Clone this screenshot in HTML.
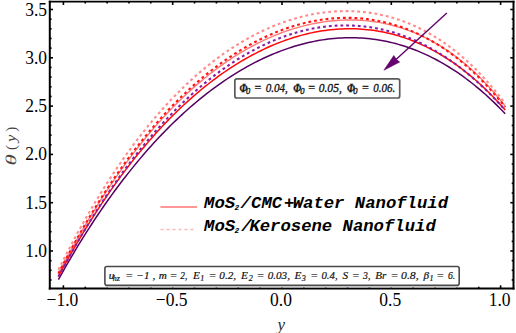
<!DOCTYPE html>
<html><head><meta charset="utf-8"><style>
html,body{margin:0;padding:0;background:#fff;width:516px;height:333px;overflow:hidden}
svg{display:block}
.serif{font-family:"Liberation Serif",serif}
.lg{font-family:"Liberation Mono",monospace;font-weight:bold;font-style:italic}
.b1{font-family:"Liberation Serif",serif;font-style:italic;stroke:#111;stroke-width:0.3px}
.b2{font-family:"Liberation Serif",serif;font-style:italic;stroke:#111;stroke-width:0.2px}
</style></head><body>
<svg width="516" height="333" viewBox="0 0 516 333">
<rect width="516" height="333" fill="#fff"/>
<g fill="none" stroke-linejoin="round">
<polyline points="58.40,273.70 61.21,268.34 64.02,263.05 66.83,257.82 69.64,252.66 72.45,247.58 75.26,242.56 78.07,237.60 80.88,232.72 83.69,227.90 86.50,223.15 89.31,218.46 92.12,213.84 94.93,209.28 97.74,204.79 100.55,200.37 103.36,196.00 106.17,191.71 108.98,187.47 111.79,183.30 114.60,179.19 117.41,175.14 120.22,171.16 123.03,167.23 125.84,163.37 128.65,159.57 131.46,155.83 134.27,152.14 137.08,148.52 139.89,144.96 142.70,141.45 145.51,138.00 148.32,134.61 151.13,131.28 153.94,128.00 156.75,124.78 159.56,121.62 162.37,118.51 165.18,115.46 167.99,112.46 170.80,109.52 173.61,106.62 176.42,103.79 179.23,101.00 182.04,98.27 184.85,95.59 187.66,92.97 190.47,90.39 193.28,87.87 196.09,85.40 198.90,82.97 201.71,80.60 204.52,78.28 207.33,76.00 210.14,73.78 212.95,71.60 215.76,69.48 218.57,67.40 221.38,65.37 224.19,63.38 227.00,61.44 229.81,59.55 232.62,57.71 235.43,55.91 238.24,54.16 241.05,52.46 243.86,50.79 246.67,49.18 249.48,47.61 252.29,46.08 255.10,44.60 257.91,43.16 260.72,41.77 263.53,40.42 266.34,39.12 269.15,37.86 271.96,36.64 274.77,35.46 277.58,34.33 280.39,33.24 283.21,32.20 286.02,31.19 288.83,30.23 291.64,29.31 294.45,28.44 297.26,27.61 300.07,26.82 302.88,26.07 305.69,25.37 308.50,24.70 311.31,24.08 314.12,23.51 316.93,22.97 319.74,22.48 322.55,22.03 325.36,21.63 328.17,21.27 330.98,20.95 333.79,20.68 336.60,20.44 339.41,20.26 342.22,20.12 345.03,20.02 347.84,19.96 350.65,19.95 353.46,19.99 356.27,20.07 359.08,20.20 361.89,20.38 364.70,20.60 367.51,20.86 370.32,21.18 373.13,21.54 375.94,21.95 378.75,22.42 381.56,22.93 384.37,23.48 387.18,24.10 389.99,24.76 392.80,25.47 395.61,26.23 398.42,27.05 401.23,27.92 404.04,28.85 406.85,29.83 409.66,30.87 412.47,31.96 415.28,33.11 418.09,34.32 420.90,35.58 423.71,36.91 426.52,38.30 429.33,39.75 432.14,41.26 434.95,42.83 437.76,44.47 440.57,46.17 443.38,47.95 446.19,49.78 449.00,51.69 451.81,53.67 454.62,55.72 457.43,57.84 460.24,60.03 463.05,62.30 465.86,64.64 468.67,67.06 471.48,69.56 474.29,72.14 477.10,74.80 479.91,77.55 482.72,80.38 485.53,83.29 488.34,86.29 491.15,89.38 493.96,92.56 496.77,95.84 499.58,99.20 502.39,102.66 505.20,106.22" stroke="#ff7a7a" stroke-width="1.4"/>
<polyline points="58.40,276.42 61.21,271.19 64.02,266.05 66.83,260.97 69.64,255.96 72.45,251.03 75.26,246.16 78.07,241.36 80.88,236.63 83.69,231.97 86.50,227.37 89.31,222.84 92.12,218.38 94.93,213.98 97.74,209.64 100.55,205.37 103.36,201.16 106.17,197.01 108.98,192.92 111.79,188.90 114.60,184.93 117.41,181.03 120.22,177.18 123.03,173.40 125.84,169.67 128.65,166.00 131.46,162.38 134.27,158.83 137.08,155.33 139.89,151.88 142.70,148.49 145.51,145.15 148.32,141.87 151.13,138.64 153.94,135.47 156.75,132.35 159.56,129.28 162.37,126.26 165.18,123.29 167.99,120.38 170.80,117.51 173.61,114.70 176.42,111.93 179.23,109.22 182.04,106.55 184.85,103.93 187.66,101.37 190.47,98.84 193.28,96.37 196.09,93.95 198.90,91.57 201.71,89.24 204.52,86.95 207.33,84.72 210.14,82.52 212.95,80.38 215.76,78.28 218.57,76.22 221.38,74.21 224.19,72.25 227.00,70.33 229.81,68.45 232.62,66.62 235.43,64.83 238.24,63.09 241.05,61.39 243.86,59.73 246.67,58.12 249.48,56.55 252.29,55.02 255.10,53.54 257.91,52.10 260.72,50.71 263.53,49.35 266.34,48.04 269.15,46.77 271.96,45.55 274.77,44.37 277.58,43.23 280.39,42.13 283.21,41.08 286.02,40.07 288.83,39.10 291.64,38.17 294.45,37.29 297.26,36.45 300.07,35.65 302.88,34.89 305.69,34.18 308.50,33.51 311.31,32.89 314.12,32.30 316.93,31.76 319.74,31.27 322.55,30.82 325.36,30.41 328.17,30.04 330.98,29.72 333.79,29.45 336.60,29.22 339.41,29.03 342.22,28.89 345.03,28.79 347.84,28.74 350.65,28.73 353.46,28.77 356.27,28.86 359.08,28.99 361.89,29.17 364.70,29.39 367.51,29.67 370.32,29.99 373.13,30.35 375.94,30.77 378.75,31.23 381.56,31.75 384.37,32.31 387.18,32.92 389.99,33.59 392.80,34.30 395.61,35.06 398.42,35.88 401.23,36.74 404.04,37.66 406.85,38.63 409.66,39.65 412.47,40.73 415.28,41.86 418.09,43.05 420.90,44.29 423.71,45.58 426.52,46.94 429.33,48.34 432.14,49.81 434.95,51.33 437.76,52.91 440.57,54.55 443.38,56.25 446.19,58.01 449.00,59.83 451.81,61.71 454.62,63.66 457.43,65.66 460.24,67.73 463.05,69.86 465.86,72.06 468.67,74.32 471.48,76.65 474.29,79.04 477.10,81.50 479.91,84.03 482.72,86.63 485.53,89.30 488.34,92.03 491.15,94.84 493.96,97.72 496.77,100.68 499.58,103.70 502.39,106.80 505.20,109.98" stroke="#ff0a0a" stroke-width="1.5"/>
<polyline points="58.40,279.63 61.21,274.58 64.02,269.61 66.83,264.70 69.64,259.86 72.45,255.08 75.26,250.37 78.07,245.73 80.88,241.15 83.69,236.64 86.50,232.19 89.31,227.80 92.12,223.47 94.93,219.21 97.74,215.00 100.55,210.86 103.36,206.77 106.17,202.75 108.98,198.78 111.79,194.88 114.60,191.02 117.41,187.23 120.22,183.49 123.03,179.81 125.84,176.19 128.65,172.61 131.46,169.10 134.27,165.63 137.08,162.22 139.89,158.87 142.70,155.56 145.51,152.31 148.32,149.11 151.13,145.96 153.94,142.86 156.75,139.81 159.56,136.81 162.37,133.87 165.18,130.97 167.99,128.12 170.80,125.31 173.61,122.56 176.42,119.85 179.23,117.20 182.04,114.58 184.85,112.02 187.66,109.50 190.47,107.03 193.28,104.61 196.09,102.23 198.90,99.89 201.71,97.60 204.52,95.36 207.33,93.16 210.14,91.01 212.95,88.89 215.76,86.83 218.57,84.81 221.38,82.83 224.19,80.89 227.00,79.00 229.81,77.15 232.62,75.35 235.43,73.59 238.24,71.87 241.05,70.19 243.86,68.56 246.67,66.96 249.48,65.41 252.29,63.91 255.10,62.44 257.91,61.02 260.72,59.64 263.53,58.30 266.34,57.00 269.15,55.75 271.96,54.54 274.77,53.36 277.58,52.23 280.39,51.15 283.21,50.10 286.02,49.10 288.83,48.14 291.64,47.21 294.45,46.34 297.26,45.50 300.07,44.71 302.88,43.95 305.69,43.24 308.50,42.58 311.31,41.95 314.12,41.37 316.93,40.83 319.74,40.33 322.55,39.87 325.36,39.46 328.17,39.09 330.98,38.77 333.79,38.48 336.60,38.24 339.41,38.05 342.22,37.89 345.03,37.79 347.84,37.72 350.65,37.70 353.46,37.73 356.27,37.80 359.08,37.91 361.89,38.07 364.70,38.28 367.51,38.53 370.32,38.82 373.13,39.17 375.94,39.56 378.75,39.99 381.56,40.47 384.37,41.00 387.18,41.58 389.99,42.21 392.80,42.88 395.61,43.60 398.42,44.37 401.23,45.19 404.04,46.06 406.85,46.98 409.66,47.95 412.47,48.97 415.28,50.04 418.09,51.17 420.90,52.34 423.71,53.57 426.52,54.84 429.33,56.18 432.14,57.56 434.95,59.00 437.76,60.49 440.57,62.04 443.38,63.64 446.19,65.29 449.00,67.01 451.81,68.77 454.62,70.60 457.43,72.48 460.24,74.42 463.05,76.42 465.86,78.48 468.67,80.59 471.48,82.77 474.29,85.01 477.10,87.30 479.91,89.66 482.72,92.08 485.53,94.56 488.34,97.10 491.15,99.71 493.96,102.38 496.77,105.12 499.58,107.92 502.39,110.78 505.20,113.72" stroke="#560062" stroke-width="1.5"/>
<polyline points="58.40,269.83 61.21,264.21 64.02,258.66 66.83,253.20 69.64,247.81 72.45,242.49 75.26,237.26 78.07,232.09 80.88,227.00 83.69,221.99 86.50,217.04 89.31,212.17 92.12,207.37 94.93,202.65 97.74,197.99 100.55,193.41 103.36,188.89 106.17,184.45 108.98,180.07 111.79,175.76 114.60,171.52 117.41,167.34 120.22,163.24 123.03,159.19 125.84,155.22 128.65,151.31 131.46,147.46 134.27,143.68 137.08,139.96 139.89,136.30 142.70,132.71 145.51,129.17 148.32,125.70 151.13,122.29 153.94,118.94 156.75,115.65 159.56,112.42 162.37,109.25 165.18,106.13 167.99,103.08 170.80,100.08 173.61,97.13 176.42,94.25 179.23,91.42 182.04,88.64 184.85,85.92 187.66,83.26 190.47,80.64 193.28,78.09 196.09,75.58 198.90,73.13 201.71,70.73 204.52,68.38 207.33,66.08 210.14,63.84 212.95,61.64 215.76,59.50 218.57,57.40 221.38,55.36 224.19,53.36 227.00,51.42 229.81,49.52 232.62,47.67 235.43,45.87 238.24,44.11 241.05,42.41 243.86,40.75 246.67,39.14 249.48,37.57 252.29,36.05 255.10,34.58 257.91,33.15 260.72,31.77 263.53,30.43 266.34,29.14 269.15,27.89 271.96,26.69 274.77,25.54 277.58,24.43 280.39,23.36 283.21,22.34 286.02,21.36 288.83,20.43 291.64,19.54 294.45,18.69 297.26,17.89 300.07,17.14 302.88,16.42 305.69,15.75 308.50,15.13 311.31,14.55 314.12,14.02 316.93,13.53 319.74,13.08 322.55,12.68 325.36,12.32 328.17,12.01 330.98,11.74 333.79,11.52 336.60,11.34 339.41,11.21 342.22,11.13 345.03,11.09 347.84,11.10 350.65,11.15 353.46,11.25 356.27,11.40 359.08,11.60 361.89,11.84 364.70,12.13 367.51,12.48 370.32,12.87 373.13,13.31 375.94,13.80 378.75,14.34 381.56,14.93 384.37,15.58 387.18,16.27 389.99,17.02 392.80,17.83 395.61,18.68 398.42,19.60 401.23,20.56 404.04,21.59 406.85,22.67 409.66,23.81 412.47,25.00 415.28,26.26 418.09,27.57 420.90,28.95 423.71,30.39 426.52,31.89 429.33,33.45 432.14,35.08 434.95,36.78 437.76,38.54 440.57,40.36 443.38,42.26 446.19,44.22 449.00,46.26 451.81,48.37 454.62,50.55 457.43,52.80 460.24,55.13 463.05,57.53 465.86,60.02 468.67,62.58 471.48,65.22 474.29,67.94 477.10,70.75 479.91,73.64 482.72,76.62 485.53,79.68 488.34,82.84 491.15,86.08 493.96,89.41 496.77,92.84 499.58,96.36 502.39,99.98 505.20,103.70" stroke="#ff8a8a" stroke-width="2.1" stroke-dasharray="2.8 3.0" stroke-dashoffset="0"/>
<polyline points="58.40,273.42 61.21,267.95 64.02,262.57 66.83,257.25 69.64,252.01 72.45,246.84 75.26,241.75 78.07,236.72 80.88,231.77 83.69,226.89 86.50,222.07 89.31,217.33 92.12,212.65 94.93,208.05 97.74,203.51 100.55,199.03 103.36,194.63 106.17,190.29 108.98,186.01 111.79,181.80 114.60,177.66 117.41,173.57 120.22,169.55 123.03,165.60 125.84,161.70 128.65,157.87 131.46,154.10 134.27,150.39 137.08,146.73 139.89,143.14 142.70,139.61 145.51,136.14 148.32,132.72 151.13,129.36 153.94,126.06 156.75,122.82 159.56,119.63 162.37,116.50 165.18,113.42 167.99,110.40 170.80,107.43 173.61,104.52 176.42,101.66 179.23,98.85 182.04,96.10 184.85,93.40 187.66,90.75 190.47,88.15 193.28,85.60 196.09,83.11 198.90,80.67 201.71,78.27 204.52,75.93 207.33,73.63 210.14,71.39 212.95,69.19 215.76,67.05 218.57,64.95 221.38,62.90 224.19,60.90 227.00,58.94 229.81,57.03 232.62,55.17 235.43,53.36 238.24,51.59 241.05,49.87 243.86,48.20 246.67,46.57 249.48,44.99 252.29,43.45 255.10,41.96 257.91,40.51 260.72,39.11 263.53,37.76 266.34,36.45 269.15,35.18 271.96,33.96 274.77,32.78 277.58,31.65 280.39,30.56 283.21,29.52 286.02,28.52 288.83,27.57 291.64,26.66 294.45,25.79 297.26,24.97 300.07,24.19 302.88,23.46 305.69,22.77 308.50,22.13 311.31,21.53 314.12,20.97 316.93,20.46 319.74,20.00 322.55,19.58 325.36,19.21 328.17,18.88 330.98,18.59 333.79,18.35 336.60,18.16 339.41,18.01 342.22,17.91 345.03,17.86 347.84,17.85 350.65,17.89 353.46,17.98 356.27,18.12 359.08,18.30 361.89,18.53 364.70,18.81 367.51,19.14 370.32,19.51 373.13,19.94 375.94,20.42 378.75,20.95 381.56,21.52 384.37,22.15 387.18,22.84 389.99,23.57 392.80,24.36 395.61,25.20 398.42,26.09 401.23,27.04 404.04,28.04 406.85,29.10 409.66,30.22 412.47,31.39 415.28,32.62 418.09,33.90 420.90,35.25 423.71,36.66 426.52,38.12 429.33,39.65 432.14,41.24 434.95,42.89 437.76,44.60 440.57,46.38 443.38,48.22 446.19,50.13 449.00,52.10 451.81,54.15 454.62,56.26 457.43,58.44 460.24,60.69 463.05,63.01 465.86,65.40 468.67,67.86 471.48,70.40 474.29,73.02 477.10,75.71 479.91,78.48 482.72,81.32 485.53,84.25 488.34,87.25 491.15,90.34 493.96,93.51 496.77,96.77 499.58,100.11 502.39,103.53 505.20,107.05" stroke="#ff1414" stroke-width="2.1" stroke-dasharray="2.8 3.0" stroke-dashoffset="0"/>
<polyline points="58.40,276.78 61.21,271.48 64.02,266.25 66.83,261.10 69.64,256.01 72.45,250.99 75.26,246.05 78.07,241.17 80.88,236.36 83.69,231.61 86.50,226.93 89.31,222.32 92.12,217.77 94.93,213.29 97.74,208.87 100.55,204.51 103.36,200.22 106.17,195.99 108.98,191.82 111.79,187.71 114.60,183.67 117.41,179.68 120.22,175.75 123.03,171.88 125.84,168.07 128.65,164.32 131.46,160.62 134.27,156.98 137.08,153.40 139.89,149.87 142.70,146.40 145.51,142.99 148.32,139.63 151.13,136.32 153.94,133.07 156.75,129.87 159.56,126.73 162.37,123.63 165.18,120.59 167.99,117.60 170.80,114.67 173.61,111.78 176.42,108.95 179.23,106.17 182.04,103.43 184.85,100.75 187.66,98.12 190.47,95.54 193.28,93.00 196.09,90.52 198.90,88.08 201.71,85.70 204.52,83.36 207.33,81.07 210.14,78.83 212.95,76.63 215.76,74.48 218.57,72.38 221.38,70.33 224.19,68.33 227.00,66.37 229.81,64.45 232.62,62.59 235.43,60.77 238.24,58.99 241.05,57.27 243.86,55.59 246.67,53.95 249.48,52.36 252.29,50.82 255.10,49.32 257.91,47.87 260.72,46.46 263.53,45.10 266.34,43.78 269.15,42.51 271.96,41.29 274.77,40.10 277.58,38.97 280.39,37.88 283.21,36.84 286.02,35.84 288.83,34.88 291.64,33.97 294.45,33.11 297.26,32.29 300.07,31.52 302.88,30.79 305.69,30.11 308.50,29.48 311.31,28.89 314.12,28.34 316.93,27.85 319.74,27.39 322.55,26.99 325.36,26.63 328.17,26.32 330.98,26.05 333.79,25.83 336.60,25.66 339.41,25.53 342.22,25.45 345.03,25.42 347.84,25.43 350.65,25.50 353.46,25.61 356.27,25.76 359.08,25.97 361.89,26.23 364.70,26.53 367.51,26.88 370.32,27.28 373.13,27.73 375.94,28.23 378.75,28.78 381.56,29.38 384.37,30.03 387.18,30.73 389.99,31.49 392.80,32.29 395.61,33.14 398.42,34.05 401.23,35.00 404.04,36.01 406.85,37.08 409.66,38.19 412.47,39.36 415.28,40.58 418.09,41.86 420.90,43.18 423.71,44.57 426.52,46.01 429.33,47.50 432.14,49.05 434.95,50.66 437.76,52.32 440.57,54.04 443.38,55.81 446.19,57.64 449.00,59.53 451.81,61.48 454.62,63.49 457.43,65.56 460.24,67.68 463.05,69.87 465.86,72.12 468.67,74.42 471.48,76.79 474.29,79.22 477.10,81.71 479.91,84.27 482.72,86.88 485.53,89.56 488.34,92.31 491.15,95.12 493.96,97.99 496.77,100.93 499.58,103.93 502.39,107.01 505.20,110.14" stroke="#8420a4" stroke-width="2.1" stroke-dasharray="2.8 3.0" stroke-dashoffset="0"/>
</g>
<g stroke="#000" fill="none">
<line x1="48.8" y1="1.6" x2="514.5" y2="1.6" stroke-width="1.6"/>
<line x1="48.8" y1="288.5" x2="514.5" y2="288.5" stroke-width="2"/>
<line x1="49.8" y1="0.8" x2="49.8" y2="289.5" stroke-width="2"/>
<line x1="513.5" y1="0.8" x2="513.5" y2="289.5" stroke-width="2"/>
</g>
<g stroke="#000" stroke-width="1.6"><line x1="63.40" y1="288.5" x2="63.40" y2="285.3"/><line x1="63.40" y1="1.75" x2="63.40" y2="4.95"/><line x1="85.26" y1="288.5" x2="85.26" y2="286.7"/><line x1="85.26" y1="1.75" x2="85.26" y2="3.55"/><line x1="107.12" y1="288.5" x2="107.12" y2="286.7"/><line x1="107.12" y1="1.75" x2="107.12" y2="3.55"/><line x1="128.98" y1="288.5" x2="128.98" y2="286.7"/><line x1="128.98" y1="1.75" x2="128.98" y2="3.55"/><line x1="150.84" y1="288.5" x2="150.84" y2="286.7"/><line x1="150.84" y1="1.75" x2="150.84" y2="3.55"/><line x1="172.70" y1="288.5" x2="172.70" y2="285.3"/><line x1="172.70" y1="1.75" x2="172.70" y2="4.95"/><line x1="194.56" y1="288.5" x2="194.56" y2="286.7"/><line x1="194.56" y1="1.75" x2="194.56" y2="3.55"/><line x1="216.42" y1="288.5" x2="216.42" y2="286.7"/><line x1="216.42" y1="1.75" x2="216.42" y2="3.55"/><line x1="238.28" y1="288.5" x2="238.28" y2="286.7"/><line x1="238.28" y1="1.75" x2="238.28" y2="3.55"/><line x1="260.14" y1="288.5" x2="260.14" y2="286.7"/><line x1="260.14" y1="1.75" x2="260.14" y2="3.55"/><line x1="282.00" y1="288.5" x2="282.00" y2="285.3"/><line x1="282.00" y1="1.75" x2="282.00" y2="4.95"/><line x1="303.86" y1="288.5" x2="303.86" y2="286.7"/><line x1="303.86" y1="1.75" x2="303.86" y2="3.55"/><line x1="325.72" y1="288.5" x2="325.72" y2="286.7"/><line x1="325.72" y1="1.75" x2="325.72" y2="3.55"/><line x1="347.58" y1="288.5" x2="347.58" y2="286.7"/><line x1="347.58" y1="1.75" x2="347.58" y2="3.55"/><line x1="369.44" y1="288.5" x2="369.44" y2="286.7"/><line x1="369.44" y1="1.75" x2="369.44" y2="3.55"/><line x1="391.30" y1="288.5" x2="391.30" y2="285.3"/><line x1="391.30" y1="1.75" x2="391.30" y2="4.95"/><line x1="413.16" y1="288.5" x2="413.16" y2="286.7"/><line x1="413.16" y1="1.75" x2="413.16" y2="3.55"/><line x1="435.02" y1="288.5" x2="435.02" y2="286.7"/><line x1="435.02" y1="1.75" x2="435.02" y2="3.55"/><line x1="456.88" y1="288.5" x2="456.88" y2="286.7"/><line x1="456.88" y1="1.75" x2="456.88" y2="3.55"/><line x1="478.74" y1="288.5" x2="478.74" y2="286.7"/><line x1="478.74" y1="1.75" x2="478.74" y2="3.55"/><line x1="500.60" y1="288.5" x2="500.60" y2="285.3"/><line x1="500.60" y1="1.75" x2="500.60" y2="4.95"/><line x1="49.8" y1="279.98" x2="51.599999999999994" y2="279.98"/><line x1="513.5" y1="279.98" x2="511.7" y2="279.98"/><line x1="49.8" y1="270.32" x2="51.599999999999994" y2="270.32"/><line x1="513.5" y1="270.32" x2="511.7" y2="270.32"/><line x1="49.8" y1="260.66" x2="51.599999999999994" y2="260.66"/><line x1="513.5" y1="260.66" x2="511.7" y2="260.66"/><line x1="49.8" y1="251.00" x2="53.0" y2="251.00"/><line x1="513.5" y1="251.00" x2="510.3" y2="251.00"/><line x1="49.8" y1="241.34" x2="51.599999999999994" y2="241.34"/><line x1="513.5" y1="241.34" x2="511.7" y2="241.34"/><line x1="49.8" y1="231.68" x2="51.599999999999994" y2="231.68"/><line x1="513.5" y1="231.68" x2="511.7" y2="231.68"/><line x1="49.8" y1="222.02" x2="51.599999999999994" y2="222.02"/><line x1="513.5" y1="222.02" x2="511.7" y2="222.02"/><line x1="49.8" y1="212.36" x2="51.599999999999994" y2="212.36"/><line x1="513.5" y1="212.36" x2="511.7" y2="212.36"/><line x1="49.8" y1="202.70" x2="53.0" y2="202.70"/><line x1="513.5" y1="202.70" x2="510.3" y2="202.70"/><line x1="49.8" y1="193.04" x2="51.599999999999994" y2="193.04"/><line x1="513.5" y1="193.04" x2="511.7" y2="193.04"/><line x1="49.8" y1="183.38" x2="51.599999999999994" y2="183.38"/><line x1="513.5" y1="183.38" x2="511.7" y2="183.38"/><line x1="49.8" y1="173.72" x2="51.599999999999994" y2="173.72"/><line x1="513.5" y1="173.72" x2="511.7" y2="173.72"/><line x1="49.8" y1="164.06" x2="51.599999999999994" y2="164.06"/><line x1="513.5" y1="164.06" x2="511.7" y2="164.06"/><line x1="49.8" y1="154.40" x2="53.0" y2="154.40"/><line x1="513.5" y1="154.40" x2="510.3" y2="154.40"/><line x1="49.8" y1="144.74" x2="51.599999999999994" y2="144.74"/><line x1="513.5" y1="144.74" x2="511.7" y2="144.74"/><line x1="49.8" y1="135.08" x2="51.599999999999994" y2="135.08"/><line x1="513.5" y1="135.08" x2="511.7" y2="135.08"/><line x1="49.8" y1="125.42" x2="51.599999999999994" y2="125.42"/><line x1="513.5" y1="125.42" x2="511.7" y2="125.42"/><line x1="49.8" y1="115.76" x2="51.599999999999994" y2="115.76"/><line x1="513.5" y1="115.76" x2="511.7" y2="115.76"/><line x1="49.8" y1="106.10" x2="53.0" y2="106.10"/><line x1="513.5" y1="106.10" x2="510.3" y2="106.10"/><line x1="49.8" y1="96.44" x2="51.599999999999994" y2="96.44"/><line x1="513.5" y1="96.44" x2="511.7" y2="96.44"/><line x1="49.8" y1="86.78" x2="51.599999999999994" y2="86.78"/><line x1="513.5" y1="86.78" x2="511.7" y2="86.78"/><line x1="49.8" y1="77.12" x2="51.599999999999994" y2="77.12"/><line x1="513.5" y1="77.12" x2="511.7" y2="77.12"/><line x1="49.8" y1="67.46" x2="51.599999999999994" y2="67.46"/><line x1="513.5" y1="67.46" x2="511.7" y2="67.46"/><line x1="49.8" y1="57.80" x2="53.0" y2="57.80"/><line x1="513.5" y1="57.80" x2="510.3" y2="57.80"/><line x1="49.8" y1="48.14" x2="51.599999999999994" y2="48.14"/><line x1="513.5" y1="48.14" x2="511.7" y2="48.14"/><line x1="49.8" y1="38.48" x2="51.599999999999994" y2="38.48"/><line x1="513.5" y1="38.48" x2="511.7" y2="38.48"/><line x1="49.8" y1="28.82" x2="51.599999999999994" y2="28.82"/><line x1="513.5" y1="28.82" x2="511.7" y2="28.82"/><line x1="49.8" y1="19.16" x2="51.599999999999994" y2="19.16"/><line x1="513.5" y1="19.16" x2="511.7" y2="19.16"/><line x1="49.8" y1="9.50" x2="53.0" y2="9.50"/><line x1="513.5" y1="9.50" x2="510.3" y2="9.50"/></g>
<g class="serif" font-size="17.5" fill="#000"><text transform="translate(47,257.00) scale(1,1.1)" text-anchor="end">1.0</text><text transform="translate(47,208.70) scale(1,1.1)" text-anchor="end">1.5</text><text transform="translate(47,160.40) scale(1,1.1)" text-anchor="end">2.0</text><text transform="translate(47,112.10) scale(1,1.1)" text-anchor="end">2.5</text><text transform="translate(47,63.80) scale(1,1.1)" text-anchor="end">3.0</text><text transform="translate(47,15.50) scale(1,1.1)" text-anchor="end">3.5</text><text transform="translate(62.40,305.5) scale(1,1.1)" text-anchor="middle">−1.0</text><text transform="translate(171.70,305.5) scale(1,1.1)" text-anchor="middle">−0.5</text><text transform="translate(281.00,305.5) scale(1,1.1)" text-anchor="middle">0.0</text><text transform="translate(390.30,305.5) scale(1,1.1)" text-anchor="middle">0.5</text><text transform="translate(499.60,305.5) scale(1,1.1)" text-anchor="middle">1.0</text></g>
<text class="serif" font-size="17" font-style="italic" fill="#2a2a2a" x="277.6" y="329.6">y</text>
<g class="serif" fill="#444" font-size="15">
<text transform="translate(15.9,166.4) rotate(-90) skewX(-14) scale(1.55,1)">&#952;</text>
<text transform="translate(15.9,150.0) rotate(-90) scale(1.0,1)">(</text>
<text transform="translate(15.9,141.9) rotate(-90) scale(1.1,1)" font-style="italic">y</text>
<text transform="translate(15.9,131.8) rotate(-90) scale(1.0,1)">)</text>
</g>
<g stroke="#620068" fill="#660070">
<line x1="446.8" y1="13.1" x2="396" y2="59.4" stroke-width="1.4"/>
<path d="M383.9,70.2 L393.8,55.6 L396.5,59.6 L399.7,62.0 Z" stroke-width="0.6"/>
</g>
<rect x="234.85" y="78.8" width="164.85" height="19.2" rx="2" fill="#fff" stroke="#5a5a5a" stroke-width="1.7"/>
<text class="b1" transform="translate(239.49,91.60) scale(0.870,1)" font-size="11.5" fill="#111" font-weight="bold">Φ</text>
<text class="b1" transform="translate(246.00,93.80) scale(1.000,1)" font-size="8.5" fill="#111">0</text>
<text class="b1" transform="translate(253.84,91.60) scale(1.050,1)" font-size="11.5" fill="#111">=</text>
<text class="b1" transform="translate(265.66,91.60) scale(0.967,1)" font-size="11.5" fill="#111">0.04,</text>
<text class="b1" transform="translate(293.14,91.60) scale(0.870,1)" font-size="11.5" fill="#111" font-weight="bold">Φ</text>
<text class="b1" transform="translate(300.18,93.80) scale(1.000,1)" font-size="8.5" fill="#111">0</text>
<text class="b1" transform="translate(307.47,91.60) scale(1.050,1)" font-size="11.5" fill="#111">=</text>
<text class="b1" transform="translate(318.70,91.60) scale(1.006,1)" font-size="11.5" fill="#111">0.05,</text>
<text class="b1" transform="translate(347.11,91.60) scale(0.870,1)" font-size="11.5" fill="#111" font-weight="bold">Φ</text>
<text class="b1" transform="translate(353.31,93.80) scale(1.000,1)" font-size="8.5" fill="#111">0</text>
<text class="b1" transform="translate(361.31,91.60) scale(1.050,1)" font-size="11.5" fill="#111">=</text>
<text class="b1" transform="translate(373.34,91.60) scale(0.952,1)" font-size="11.5" fill="#111">0.06.</text>
<rect x="105.5" y="285.9" width="353.2" height="1.6" fill="#c8c8c8"/>
<rect x="104.9" y="266.5" width="354.3" height="18.7" rx="2" fill="#fff" stroke="#4a4a4a" stroke-width="1.6"/>
<text class="b2" transform="translate(108.65,279.30) scale(1.000,1)" font-size="11.2" fill="#111">u</text>
<text class="b2" transform="translate(112.87,280.90) scale(1.000,1)" font-size="8" fill="#111">hz</text>
<text class="b2" transform="translate(125.36,279.30) scale(1.050,1)" font-size="11.2" fill="#111">=</text>
<text class="b2" transform="translate(136.56,279.30) scale(0.982,1)" font-size="11.2" fill="#111">−1</text>
<text class="b2" transform="translate(152.48,279.30) scale(1.000,1)" font-size="11.2" fill="#111">,</text>
<text class="b2" transform="translate(158.64,279.30) scale(1.000,1)" font-size="11.2" fill="#111">m</text>
<text class="b2" transform="translate(169.57,279.30) scale(1.050,1)" font-size="11.2" fill="#111">=</text>
<text class="b2" transform="translate(180.37,279.30) scale(0.836,1)" font-size="11.2" fill="#111">2,</text>
<text class="b2" transform="translate(193.11,279.30) scale(1.000,1)" font-size="11.2" fill="#111">E</text>
<text class="b2" transform="translate(200.16,280.90) scale(1.000,1)" font-size="8" fill="#111">1</text>
<text class="b2" transform="translate(208.50,279.30) scale(1.050,1)" font-size="11.2" fill="#111">=</text>
<text class="b2" transform="translate(219.37,279.30) scale(1.001,1)" font-size="11.2" fill="#111">0.2,</text>
<text class="b2" transform="translate(240.90,279.30) scale(1.000,1)" font-size="11.2" fill="#111">E</text>
<text class="b2" transform="translate(248.85,280.90) scale(1.000,1)" font-size="8" fill="#111">2</text>
<text class="b2" transform="translate(256.38,279.30) scale(1.050,1)" font-size="11.2" fill="#111">=</text>
<text class="b2" transform="translate(267.73,279.30) scale(0.992,1)" font-size="11.2" fill="#111">0.03,</text>
<text class="b2" transform="translate(294.57,279.30) scale(1.000,1)" font-size="11.2" fill="#111">E</text>
<text class="b2" transform="translate(301.85,280.90) scale(1.000,1)" font-size="8" fill="#111">3</text>
<text class="b2" transform="translate(310.14,279.30) scale(1.050,1)" font-size="11.2" fill="#111">=</text>
<text class="b2" transform="translate(321.45,279.30) scale(0.961,1)" font-size="11.2" fill="#111">0.4,</text>
<text class="b2" transform="translate(342.41,279.30) scale(1.000,1)" font-size="11.2" fill="#111">S</text>
<text class="b2" transform="translate(351.65,279.30) scale(1.050,1)" font-size="11.2" fill="#111">=</text>
<text class="b2" transform="translate(363.06,279.30) scale(0.868,1)" font-size="11.2" fill="#111">3,</text>
<text class="b2" transform="translate(375.18,279.30) scale(0.990,1)" font-size="11.2" fill="#111">Br</text>
<text class="b2" transform="translate(390.58,279.30) scale(1.050,1)" font-size="11.2" fill="#111">=</text>
<text class="b2" transform="translate(401.04,279.30) scale(1.051,1)" font-size="11.2" fill="#111">0.8,</text>
<text class="b2" transform="translate(423.62,279.30) scale(1.000,1)" font-size="11.2" fill="#111">β</text>
<text class="b2" transform="translate(429.41,280.90) scale(1.000,1)" font-size="8" fill="#111">1</text>
<text class="b2" transform="translate(436.17,279.30) scale(1.050,1)" font-size="11.2" fill="#111">=</text>
<text class="b2" transform="translate(447.89,279.30) scale(0.865,1)" font-size="11.2" fill="#111">6.</text>
<line x1="160.4" y1="207" x2="197" y2="207" stroke="#ff7474" stroke-width="1.6"/>
<line x1="160.6" y1="229.5" x2="193.8" y2="229.5" stroke="#ffb8b8" stroke-width="1.6" stroke-dasharray="3 2.96"/>
<text class="lg" transform="translate(204.04,208.00)" font-size="17.25" fill="#000" xml:space="preserve">MoS</text>
<text class="lg" transform="translate(234.41,210.20)" font-size="7.8" fill="#000" xml:space="preserve">2</text>
<text class="lg" transform="translate(240.62,208.00)" font-size="17.25" fill="#000" xml:space="preserve">/</text>
<text class="lg" transform="translate(251.04,208.00)" font-size="17.25" fill="#000" xml:space="preserve">CMC</text>
<text class="lg" transform="translate(284.09,208.00)" font-size="17.25" fill="#000" xml:space="preserve">+</text>
<text class="lg" transform="translate(292.71,208.00)" font-size="17.25" fill="#000" xml:space="preserve">Water Nanofluid</text>
<text class="lg" transform="translate(204.04,230.80)" font-size="17.25" fill="#000" xml:space="preserve">MoS</text>
<text class="lg" transform="translate(234.41,233.00)" font-size="7.8" fill="#000" xml:space="preserve">2</text>
<text class="lg" transform="translate(241.17,230.80)" font-size="17.25" fill="#000" xml:space="preserve">/</text>
<text class="lg" transform="translate(249.40,230.80)" font-size="17.25" fill="#000" xml:space="preserve">Kerosene Nanofluid</text>
</svg>
</body></html>
